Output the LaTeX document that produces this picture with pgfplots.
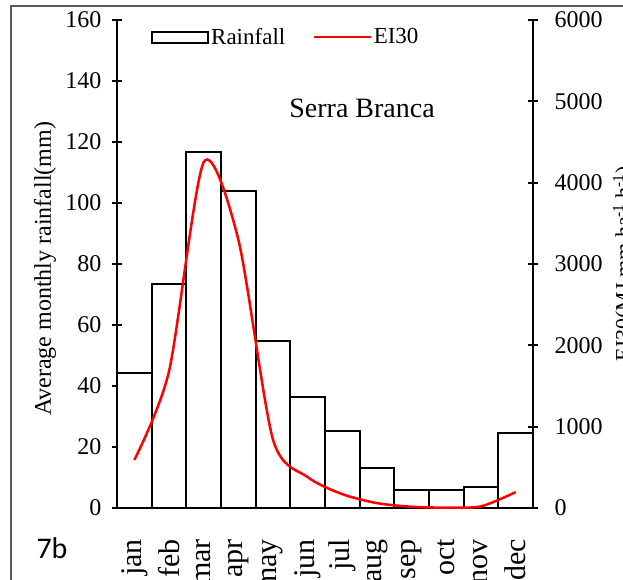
\documentclass[border=0pt]{standalone}
\usepackage{fontspec}
\setmainfont{Liberation Serif}
\newfontfamily\calibri{Carlito}
\usepackage{pgfplots}
\pgfplotsset{compat=1.18}

\begin{document}
\begin{tikzpicture}[x=1pt,y=1pt]
\pgfplotsset{
  common/.style={
    at={(117pt,72pt)}, anchor=south west,
    scale only axis, width=416pt, height=488pt,
    xmin=0.5, xmax=12.5,
    axis line style={line width=2.2pt, -, black},
    major tick length=10pt, tick align=center,
    every tick/.style={black, line width=2pt},
    /pgf/number format/assume math mode=true,
    /pgf/number format/1000 sep={},
    scaled y ticks=false,
    clip=false,
  }
}
\begin{axis}[common,
  ymin=0, ymax=160,
  axis x line*=bottom, axis y line*=left,
  ytick={0,20,...,160},
  y tick label style={font=\fontsize{24}{24}\selectfont, xshift=-7pt},
  xtick={1,...,12},
  xticklabels={jan,feb,mar,apr,may,jun,jul,aug,sep,oct,nov,dec},
  major x tick style={draw=none},
  x tick label style={rotate=90, anchor=east, inner sep=0pt, xshift=-26pt, font=\fontsize{30}{30}\selectfont},
  ylabel={Average monthly rainfall(mm)},
  every axis y label/.style={at={(axis description cs:-0.173,0.49)}, rotate=90, anchor=center, font=\fontsize{24}{24}\selectfont},
]
\addplot[ybar, bar width=1, fill=white, draw=black, line width=2pt]
  coordinates {(1,44.3) (2,73.6) (3,116.6) (4,104.0) (5,54.6) (6,36.4) (7,25.4) (8,13.2) (9,5.9) (10,5.9) (11,6.9) (12,24.7)};
\node[font=\fontsize{28}{28}\selectfont] at (axis cs:7.57,131) {Serra Branca};
\end{axis}
\begin{axis}[common,
  ymin=0, ymax=6000,
  axis y line*=right, axis x line=none,
  ytick={0,1000,...,6000},
  y tick label style={font=\fontsize{24}{24}\selectfont, xshift=13pt},
  ylabel={EI30(MJ mm ha\textsuperscript{-1} h\textsuperscript{-1})},
  every axis y label/.style={at={(axis description cs:1.219,0.5)}, rotate=90, anchor=center, font=\fontsize{22}{22}\selectfont},
  legend style={at={(0.0817,0.965)}, anchor=west, draw=none, fill=none, inner sep=0pt,
    font=\fontsize{23}{23}\selectfont, /tikz/every even column/.append style={column sep=25pt}},
  legend columns=2,
]
\addlegendimage{legend image code/.code={\draw[black, line width=2pt, fill=white] (0pt,-5.5pt) rectangle (56pt,5.5pt);}}
\addlegendentry{Rainfall}
\addplot[red, line width=2.5pt, smooth, tension=0.45, legend image code/.code={\draw[red, line width=2.5pt] (0pt,0pt) -- (57pt,0pt);}]
  coordinates {(1,590) (2,1680) (3,4250) (4,3300) (5,840) (6,380) (7,170) (8,60) (9,15) (10,5) (11,20) (12,195)};
\addlegendentry{EI30}
\end{axis}
\node[font=\calibri\fontsize{30}{30}\selectfont] at (52,32) {7b};
\draw[black!65, line width=1.3pt] (11,-2) -- (11,574) -- (625,574);
\pgfresetboundingbox
\useasboundingbox (0,0) rectangle (623,580);
\end{tikzpicture}
\end{document}
